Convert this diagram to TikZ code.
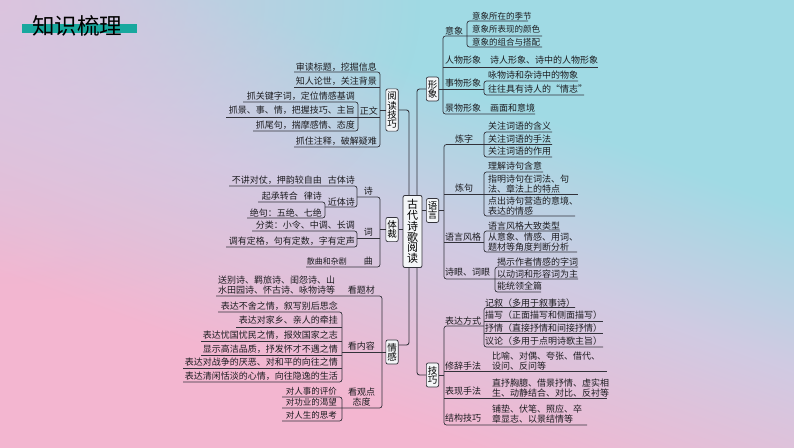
\documentclass[tikz,border=0pt]{standalone}
\usepackage{fontspec}
\setmainfont{Noto Sans CJK SC}
\usetikzlibrary{calc,fadings}
\definecolor{lc}{RGB}{50,50,58}
\definecolor{txt}{RGB}{28,28,32}
\definecolor{teal1}{RGB}{24,168,158}
\definecolor{bgpink}{RGB}{243,182,208}
\definecolor{bglav}{RGB}{208,202,226}
\definecolor{bgcyan}{RGB}{160,218,228}
\definecolor{tlcol}{RGB}{224,194,222}
\definecolor{boxfill}{RGB}{244,246,248}
\pgfdeclareverticalshading{bgshade}{100bp}{color(0bp)=(bgpink); color(33bp)=(bgpink); color(50bp)=(bglav); color(64bp)=(bgcyan); color(100bp)=(bgcyan)}
\tikzfading[name=glow, inner color=transparent!10, outer color=transparent!100]
\tikzset{
  lf/.style={font=\fontsize{9}{9.6}\selectfont, inner sep=0pt, text=txt},
  lfs/.style={font=\fontsize{8.5}{9.6}\selectfont, inner sep=0pt, text=txt},
  ln/.style={draw=lc, line width=0.7pt, rounded corners=2.5pt},
  trunk/.style={draw=lc, line width=0.85pt, rounded corners=2.5pt},
  bbox/.style={draw=lc, line width=0.7pt, fill=boxfill, rounded corners=2pt, align=center,
    font=\fontsize{9.5}{9.1}\selectfont, inner xsep=1.4pt, inner ysep=3.2pt, text=black},
  cbox/.style={draw=lc, line width=0.8pt, fill=boxfill, rounded corners=2pt, align=center,
    font=\fontsize{11}{10.8}\selectfont, inner xsep=4pt, inner ysep=4pt, text=black}
}
\begin{document}
\begin{tikzpicture}[x=1pt,y=-1pt]
\useasboundingbox (0,0) rectangle (794,447);
\begin{scope}
\clip (0,0) rectangle (794,447);
\shade[shading=bgshade, shading angle=-20] (0,0) rectangle (794,447);
\fill[tlcol, path fading=glow] (-420,-300) rectangle (420,300);
\end{scope}

% title
\fill[teal1] (22,24) rectangle (137,33);
\node[font=\fontsize{22.5}{24}\selectfont, anchor=west, inner sep=0pt] (title) at (32,26) {知识梳理};

% center and branch boxes
\node[cbox] (root) at (412.5,231.5) {古\\代\\诗\\歌\\阅\\读};
\node[bbox] (ydjq) at (392,110) {阅\\读\\技\\巧};
\node[bbox] (tc) at (392,229.5) {体\\裁};
\node[bbox] (qg) at (392,352) {情\\感};
\node[bbox] (xx) at (432.5,89) {形\\象};
\node[bbox] (yy) at (432.5,210.5) {语\\言};
\node[bbox] (jq) at (432.5,375) {技\\巧};

\draw[trunk] (ydjq.east) -| ($(root.north)+(-3.5,0)$);
\draw[trunk] (xx.west) -| ($(root.north)+(4.5,0)$);
\draw[trunk] (tc.east) -- (tc.east -| root.west);
\draw[trunk] (yy.west) -- (yy.west -| root.east);
\draw[trunk] ($(qg.east)+(0,-7)$) -| ($(root.south)+(-3.5,0)$);
\draw[trunk] (jq.west) -| ($(root.south)+(4.5,0)$);

% ---------- 阅读技巧 ----------
\node[lf, anchor=east] (r1) at (377,67) {审读标题，挖掘信息};
\node[lf, anchor=east] (r2) at (377,81.5) {知人论世，关注背景};
\node[lf, anchor=east] (zw) at (378,111) {正文};
\node[lf, anchor=east] (r4) at (377,141) {抓住注释，破解疑难};
\node[lf, anchor=east] (z1) at (355,96.5) {抓关键字词，定位情感基调};
\node[lf, anchor=east] (z2) at (355,110.5) {抓景、事、情，把握技巧、主旨};
\node[lf, anchor=east] (z3) at (355,125) {抓尾句，揣摩感情、态度};
\draw[ln] (294,72) -- (380,72) -- (380,147) -- (294,147);
\draw[ln] (294,87) -- (380,87);
\draw[ln] (226,117) -- (380,117);
\draw[ln] (380,110) -- (ydjq.west);
\draw[ln] (243,102) -- (358,102) -- (358,131) -- (253,131);

% ---------- 体裁 ----------
\node[lf, anchor=east] (shi) at (373,191.5) {诗};
\node[lf, anchor=east] (t1) at (355,180.5) {不讲对仗，押韵较自由\hspace{6pt}古体诗};
\node[lf, anchor=east] (jts) at (355,202) {近体诗};
\node[lf, anchor=east] (ls) at (322,196.5) {起承转合\hspace{6pt}律诗};
\node[lf, anchor=east] (jj) at (322,213) {绝句：五绝、七绝};
\node[lf, anchor=east] (ci) at (373,232.5) {词};
\node[lf, anchor=east] (c1) at (355,225.5) {分类：小令、中调、长调};
\node[lf, anchor=east] (c2) at (355,241.5) {调有定格，句有定数，字有定声};
\node[lf, anchor=east] (qu) at (373,261) {曲};
\node[lf, font=\fontsize{8}{9}\selectfont, anchor=east] (q1) at (347,261) {散曲和杂剧};
\draw[ln] (229,186) -- (357,186) -- (357,207) -- (325,207);
\draw[ln] (258,202) -- (325,202) -- (325,218) -- (247,218);
\draw[ln] (252,231) -- (357,231) -- (357,247) -- (226,247);
\draw[ln] (357,197) -- (380,197) -- (380,267) -- (306,267);
\draw[ln] (357,238) -- (380,238);
\draw[ln] (380,229.5) -- (tc.west);

% ---------- 情感 ----------
\node[lf, anchor=west, align=left] (tm) at (218,285.3) {送别诗、羁旅诗、闺怨诗、山\\水田园诗、怀古诗、咏物诗等};
\node[lf, anchor=east] (ktc) at (375,290) {看题材};
\node[lf, anchor=east] (knr) at (375,346) {看内容};
\node[lf, anchor=east] (n1) at (338,306) {表达不舍之情，叙写别后思念};
\node[lf, anchor=east] (n2) at (338,320.5) {表达对家乡、亲人的牵挂};
\node[lf, anchor=east] (n3) at (338,335) {表达忧国忧民之情，报效国家之志};
\node[lf, anchor=east] (n4) at (338,349) {显示高洁品质，抒发怀才不遇之情};
\node[lf, anchor=east] (n5) at (338,362.5) {表达对战争的厌恶、对和平的向往之情};
\node[lf, anchor=east] (n6) at (338,376) {表达清闲恬淡的心情，向往隐逸的生活};
\node[lf, align=center] (kgd) at (361.5,397) {看观点\\态度};
\node[lfs, anchor=east] (g1) at (337,391.5) {对人事的评价};
\node[lfs, anchor=east] (g2) at (337,402.5) {对功业的渴望};
\node[lfs, anchor=east] (g3) at (337,415) {对人生的思考};
\draw[ln] (216,296) -- (382,296) -- (382,408) -- (282,408);
\draw[ln] (218,312) -- (342,312) -- (342,382) -- (183,382);
\draw[ln] (236,327) -- (342,327);
\draw[ln] (201,341) -- (342,341);
\draw[ln] (201,355) -- (342,355);
\draw[ln] (183,368) -- (342,368);
\draw[ln] (342,352) -- (382,352);
\draw[ln] (382,352) -- (qg.west);
\draw[ln] (282,397) -- (342,397) -- (342,421) -- (282,421);

% ---------- 形象 ----------
\node[lf, anchor=west] (yx) at (445,30.5) {意象};
\node[lfs, anchor=west] (y1) at (472,16) {意象所在的季节};
\node[lfs, anchor=west] (y2) at (472,29.5) {意象所表现的颜色};
\node[lfs, anchor=west] (y3) at (472,42) {意象的组合与搭配};
\draw[ln] (528,21) -- (467,21) -- (467,47) -- (542,47);
\draw[ln] (542,36) -- (443,36) -- (443,114) -- (535,114);
\node[lf, anchor=west] (rw) at (445,60.5) {人物形象};
\node[lf, anchor=west] (rw1) at (490,60.5) {诗人形象、诗中的人物形象};
\draw[ln] (443,67) -- (598,67);
\node[lf, anchor=west] (sw) at (445,83) {事物形象};
\node[lf, anchor=west] (sw1) at (488,75.5) {咏物诗和杂诗中的物象};
\node[lf, anchor=west] (sw2) at (488,89) {往往具有诗人的“情志”};
\draw[ln] (578,81) -- (484,81) -- (484,95) -- (584,95);
\draw[ln] (xx.east) -- (484,89);
\node[lf, anchor=west] (jw) at (445,108.5) {景物形象};
\node[lf, anchor=west] (jw1) at (490,108.5) {画面和意境};

% ---------- 语言 ----------
\node[lf, anchor=west] (lz) at (455,139.5) {炼字};
\node[lf, anchor=west] (lz1) at (488,126.5) {关注词语的含义};
\node[lf, anchor=west] (lz2) at (488,139.5) {关注词语的手法};
\node[lf, anchor=west] (lz3) at (488,151.5) {关注词语的作用};
\draw[ln] (552,132) -- (484,132) -- (484,157) -- (552,157);
\draw[ln] (552,144.5) -- (444,144.5) -- (444,279) -- (578,279);
\node[lf, anchor=west] (lj) at (455,188) {炼句};
\node[lf, anchor=west] (lj1) at (488,166.5) {理解诗句含意};
\node[lf, anchor=west, align=left] (lj2) at (488,184) {指明诗句在词法、句\\法、章法上的特点};
\node[lf, anchor=west, align=left] (lj3) at (488,206) {点出诗句营造的意境、\\表达的情感};
\draw[ln] (543,172) -- (484,172) -- (484,216) -- (575,216);
\draw[ln] (444,194) -- (578,194);
\draw[ln] (yy.east) -- (444,210.5);
\node[lf, anchor=west] (yf) at (445,237) {语言风格};
\node[lf, anchor=west] (yf1) at (488,226) {语言风格大致类型};
\node[lf, anchor=west, align=left] (yf2) at (488,242) {从意象、情感、用词、\\题材等角度判断分析};
\draw[ln] (560,231) -- (484,231) -- (484,252) -- (577,252);
\draw[ln] (444,242) -- (484,242);
\node[lf, anchor=west] (sy) at (445,272.5) {诗眼、词眼};
\node[lf, anchor=west] (sy1) at (497,262) {揭示作者情感的字词};
\node[lf, anchor=west] (sy2) at (497,274) {以动词和形容词为主};
\node[lf, anchor=west] (sy3) at (497,286.5) {能统领全篇};
\draw[ln] (578,267) -- (495,267) -- (495,292) -- (541,292);

% ---------- 技巧 ----------
\node[lf, anchor=west] (bd) at (445,321) {表达方式};
\node[lf, anchor=west] (bd1) at (485,303) {记叙（多用于叙事诗）};
\node[lf, anchor=west] (bd2) at (485,315.5) {描写（正面描写和侧面描写）};
\node[lf, anchor=west] (bd3) at (485,328) {抒情（直接抒情和间接抒情）};
\node[lf, anchor=west] (bd4) at (485,341) {议论（多用于点明诗歌主旨）};
\draw[ln] (575,307.5) -- (484,307.5) -- (484,347) -- (603,347);
\draw[ln] (484,321) -- (603,321);
\draw[ln] (484,333) -- (603,333);
\draw[ln] (484,326) -- (444,326) -- (444,425) -- (587,425);
\draw[ln] (jq.east) -- (444,375);
\node[lf, anchor=west] (xc) at (445,366) {修辞手法};
\node[lf, anchor=west, align=left] (xc1) at (492,361) {比喻、对偶、夸张、借代、\\设问、反问等};
\draw[ln] (444,371) -- (607,371);
\node[lf, anchor=west] (bx) at (445,391.5) {表现手法};
\node[lf, anchor=west, align=left] (bx1) at (492,388) {直抒胸臆、借景抒情、虚实相\\生、动静结合、对比、反衬等};
\draw[ln] (444,398) -- (607,398);
\node[lf, anchor=west] (jg) at (445,418) {结构技巧};
\node[lf, anchor=west, align=left] (jg1) at (492,414) {铺垫、伏笔、照应、卒\\章显志、以景结情等};
\end{tikzpicture}
\end{document}
